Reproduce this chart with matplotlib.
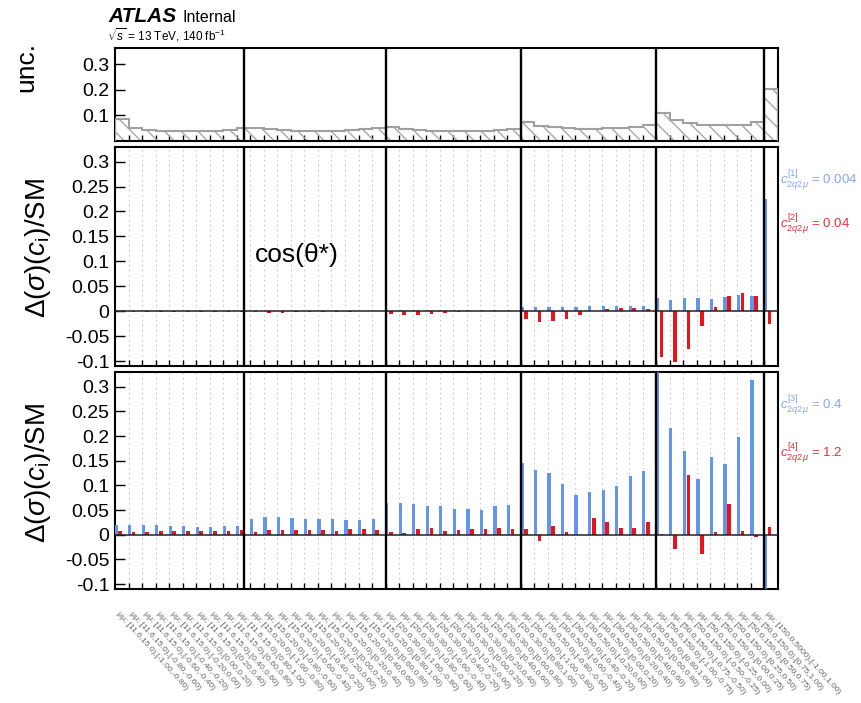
import numpy as np
import matplotlib
matplotlib.use('Agg')
import matplotlib.pyplot as plt
import matplotlib.transforms as mtrans

plt.rcParams['font.family'] = ['Liberation Sans', 'DejaVu Sans']
plt.rcParams['mathtext.fontset'] = 'custom'
plt.rcParams['mathtext.rm'] = 'Liberation Sans'
plt.rcParams['mathtext.it'] = 'Liberation Sans:italic'
plt.rcParams['mathtext.bf'] = 'Liberation Sans:bold'
plt.rcParams['axes.unicode_minus'] = False
plt.rcParams['hatch.linewidth'] = 1.0

# ---------------- data ----------------
pt_bins = ["[11.6,15.0)", "[15.0,20.0)", "[20.0,30.0)", "[30.0,50.0)",
           "[50.0,150.0)", "[150.0,5000)"]
cos_bins_02 = ["[-1.00,-0.80)", "[-0.80,-0.60)", "[-0.60,-0.40)", "[-0.40,-0.20)",
               "[-0.20,0.00)", "[0.00,0.20)", "[0.20,0.40)", "[0.40,0.60)",
               "[0.60,0.80)", "[0.80,1.00)"]
cos_bins_025 = ["[-1.00,-0.75)", "[-0.75,-0.50)", "[-0.50,-0.25)", "[-0.25,0.00)",
                "[0.00,0.25)", "[0.25,0.50)", "[0.50,0.75)", "[0.75,1.00)"]
cos_bins_all = ["[-1.00,1.00)"]
cos_bins_per_pt = [cos_bins_02, cos_bins_02, cos_bins_02, cos_bins_02,
                   cos_bins_025, cos_bins_all]
bin_labels = ["μμ; " + pt + "," + c
              for pt, cl in zip(pt_bins, cos_bins_per_pt) for c in cl]

unc = [0.086, 0.050, 0.044, 0.040, 0.038, 0.038, 0.038, 0.040, 0.042, 0.052,
       0.052, 0.047, 0.044, 0.041, 0.038, 0.038, 0.040, 0.042, 0.046, 0.051,
       0.053, 0.047, 0.043, 0.041, 0.040, 0.040, 0.040, 0.041, 0.043, 0.046,
       0.076, 0.060, 0.055, 0.050, 0.048, 0.048, 0.049, 0.051, 0.055, 0.064,
       0.109, 0.083, 0.072, 0.064, 0.062, 0.061, 0.062, 0.076,
       0.205]

c1 = [0.0008] * 10 + [0.001] * 10 + \
     [0.002, 0.003, 0.003, 0.003, 0.003, 0.003, 0.003, 0.003, 0.003, 0.003] + \
     [0.008, 0.009, 0.009, 0.009, 0.009, 0.010, 0.010, 0.010, 0.010, 0.010] + \
     [0.026, 0.023, 0.027, 0.027, 0.025, 0.029, 0.032, 0.030] + \
     [0.225]
c2 = [-0.001, -0.002, -0.002, -0.001, -0.001, -0.001, -0.001, -0.001, -0.001, -0.001,
      -0.002, -0.003, -0.003, -0.002, -0.001, -0.001, -0.001, -0.001, -0.0005, -0.0005,
      -0.005, -0.007, -0.007, -0.005, -0.003, -0.001, 0.001, 0.001, 0.001, 0.001,
      -0.015, -0.021, -0.019, -0.015, -0.007, 0.001, 0.005, 0.006, 0.006, 0.004,
      -0.092, -0.102, -0.076, -0.030, 0.009, 0.031, 0.037, 0.030,
      -0.025]
c3 = [0.019, 0.020, 0.019, 0.020, 0.018, 0.017, 0.016, 0.015, 0.017, 0.017,
      0.032, 0.035, 0.037, 0.034, 0.031, 0.031, 0.031, 0.030, 0.029, 0.032,
      0.064, 0.064, 0.062, 0.058, 0.058, 0.052, 0.052, 0.050, 0.059, 0.060,
      0.145, 0.131, 0.125, 0.103, 0.080, 0.087, 0.091, 0.099, 0.119, 0.129,
      0.340, 0.217, 0.170, 0.114, 0.157, 0.143, 0.199, 0.313,
      -0.120]
c4 = [0.007, 0.006, 0.006, 0.007, 0.007, 0.008, 0.007, 0.008, 0.008, 0.010,
      0.006, 0.010, 0.010, 0.009, 0.009, 0.010, 0.008, 0.011, 0.011, 0.009,
      0.005, 0.003, 0.011, 0.013, 0.007, 0.010, 0.012, 0.012, 0.013, 0.011,
      0.011, -0.013, 0.017, 0.005, 0.000, 0.033, 0.025, 0.013, 0.013, 0.025,
      0.001, -0.028, 0.121, -0.039, 0.005, 0.062, 0.008, -0.005,
      0.015]

legend_mid = [r"$c^{[1]}_{2q2\mu}$ = 0.004", r"$c^{[2]}_{2q2\mu}$ = 0.04"]
legend_bot = [r"$c^{[3]}_{2q2\mu}$ = 0.4", r"$c^{[4]}_{2q2\mu}$ = 1.2"]

ratio_ticks = [-0.1, -0.05, 0, 0.05, 0.1, 0.15, 0.2, 0.25, 0.3]
ratio_ticklabels = ["-0.1", "-0.05", "0", "0.05", "0.1", "0.15", "0.2", "0.25", "0.3"]
unc_ticks = [0.1, 0.2, 0.3]
unc_ticklabels = ["0.1", "0.2", "0.3"]

# ---------------- styling ----------------
BLUE = '#6495ED'
RED = '#E8141C'
BLUE_TXT = '#85A9EE'
RED_TXT = '#E3323A'
group_sep = [9.5, 20, 30, 40, 48]

nb = len(bin_labels)
edges = np.arange(nb + 1)
x = np.arange(nb)

W, H = 861, 703
fig = plt.figure(figsize=(W / 100, H / 100), dpi=100)

def rect(l, t, r, b):
    return [l / W, 1 - b / H, (r - l) / W, (b - t) / H]

ax_top = fig.add_axes(rect(115, 47.7, 778, 141))
ax_mid = fig.add_axes(rect(115, 146.7, 778, 366))
ax_bot = fig.add_axes(rect(115, 372, 778, 589))

for ax in (ax_top, ax_mid, ax_bot):
    ax.set_xlim(0, nb)
    for s in ax.spines.values():
        s.set_linewidth(1.5)
        s.set_color('black')
    ax.set_xticks(edges[1:-1])
    ax.tick_params(axis='x', direction='in', length=4, width=1, labelbottom=False)
    ax.tick_params(axis='y', direction='in', length=7, width=1, labelsize=14, pad=4)
    for s in group_sep:
        ax.axvline(s, color='black', lw=1.7, zorder=5)

# top panel: uncertainty hatched histogram
ax_top.bar(x, unc, width=1.0, align='edge', facecolor='none', edgecolor='#a8a8a8',
           hatch='\\\\', linewidth=0, zorder=2)
ax_top.stairs(unc, edges, color='#a0a0a0', lw=1.5, zorder=3)
ax_top.set_ylim(0, 0.365)
ax_top.set_yticks(unc_ticks, unc_ticklabels)

# ratio panels
for ax, blue, red in ((ax_mid, c1, c2), (ax_bot, c3, c4)):
    for e in edges[1:-1]:
        ax.axvline(e, color='#c8c8c8', lw=0.8, ls=(0, (1.5, 3)), zorder=1)
    ax.bar(x + 0.08, blue, width=0.24, color=BLUE, zorder=3)
    ax.bar(x + 0.38, red, width=0.27, color=RED, zorder=3)
    ax.axhline(0, color='#222222', lw=1.1, zorder=4)
    ax.set_ylim(-0.11, 0.33)
    ax.set_yticks(ratio_ticks, ratio_ticklabels)

# x tick labels (rotated)
trans = mtrans.blended_transform_factory(ax_bot.transData, ax_bot.transAxes)
for i, lab in enumerate(bin_labels):
    ax_bot.text(x[i] + 0.35, -0.1, lab, transform=trans, rotation=-48,
                rotation_mode='anchor', ha='left', va='top', fontsize=6.0,
                color='#666666', clip_on=False)

# texts
fig.text(108 / W, 1 - 17 / H, 'ATLAS', fontsize=15, weight='bold', style='italic',
         va='center', ha='left')
fig.text(183 / W, 1 - 17 / H, 'Internal', fontsize=11.5, va='center', ha='left')
fig.text(107 / W, 1 - 35 / H, r'$\sqrt{s}$ = 13 TeV, 140 fb$^{-1}$', fontsize=8.5,
         va='center', ha='left')
fig.text(26 / W, 1 - 67 / H, 'unc.', fontsize=19, rotation=90, va='center', ha='center')
fig.text(38 / W, 1 - 248 / H, r'$\Delta(\sigma)(c_{\mathrm{i}})$/SM', fontsize=20,
         rotation=90, va='center', ha='center')
fig.text(38 / W, 1 - 473 / H, r'$\Delta(\sigma)(c_{\mathrm{i}})$/SM', fontsize=20,
         rotation=90, va='center', ha='center')
fig.text(255 / W, 1 - 255 / H, 'cos(θ*)', fontsize=19, va='center', ha='left')

fig.text(780 / W, 1 - 180 / H, legend_mid[0], fontsize=9.5, color=BLUE_TXT, va='center', ha='left')
fig.text(780 / W, 1 - 224 / H, legend_mid[1], fontsize=9.5, color=RED_TXT, va='center', ha='left')
fig.text(780 / W, 1 - 405 / H, legend_bot[0], fontsize=9.5, color=BLUE_TXT, va='center', ha='left')
fig.text(780 / W, 1 - 453 / H, legend_bot[1], fontsize=9.5, color=RED_TXT, va='center', ha='left')

fig.savefig('out.png', dpi=100)
